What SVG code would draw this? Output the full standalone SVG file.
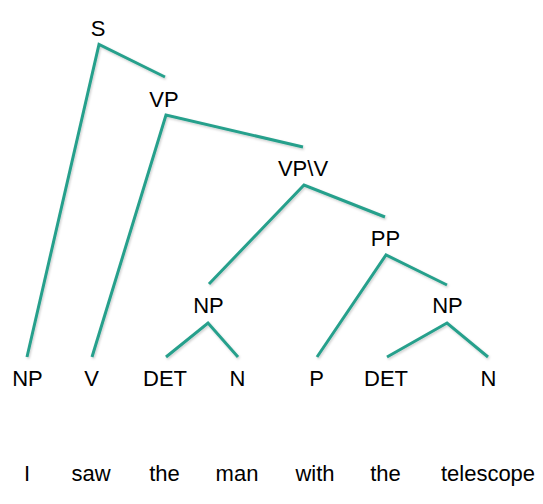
<svg xmlns="http://www.w3.org/2000/svg" width="543" height="504" viewBox="0 0 543 504">
<style>
.lbl{font-family:"Liberation Sans",Arial,sans-serif;font-size:22px;fill:#000;text-anchor:middle}
.br{fill:none;stroke:#27a08c;stroke-width:3;stroke-linejoin:miter;stroke-linecap:butt}
</style>
<defs>
<filter id="sh" x="-10%" y="-10%" width="120%" height="120%">
<feDropShadow dx="1" dy="1.5" stdDeviation="0.8" flood-color="#000" flood-opacity="0.2"/>
</filter>
</defs>
<rect width="543" height="504" fill="#fff"/>
<g id="connectors" filter="url(#sh)">
<polyline class="br" points="27,357 99,44.5 165,77"/>
<polyline class="br" points="92,357 166,115 303,147"/>
<polyline class="br" points="209,284 304,185 385,217"/>
<polyline class="br" points="317,357 386,255 447,285"/>
<polyline class="br" points="166,357 208,323 238,357"/>
<polyline class="br" points="387,357 447,323 488,357"/>
</g>
<g id="node-S"><text class="lbl" x="98" y="36">S</text></g>
<g id="node-VP"><text class="lbl" x="164" y="107">VP</text></g>
<g id="node-VPV"><text class="lbl" x="303" y="176">VP\V</text></g>
<g id="node-PP"><text class="lbl" x="385.5" y="246">PP</text></g>
<g id="node-NP1"><text class="lbl" x="208.5" y="313">NP</text></g>
<g id="node-NP2"><text class="lbl" x="447.5" y="313">NP</text></g>
<g id="node-NP0"><text class="lbl" x="27.5" y="386">NP</text></g>
<g id="node-V"><text class="lbl" x="91.5" y="386">V</text></g>
<g id="node-DET1"><text class="lbl" x="165" y="386">DET</text></g>
<g id="node-N1"><text class="lbl" x="237.5" y="386">N</text></g>
<g id="node-P"><text class="lbl" x="316.5" y="386">P</text></g>
<g id="node-DET2"><text class="lbl" x="386" y="386">DET</text></g>
<g id="node-N2"><text class="lbl" x="488.5" y="386">N</text></g>
<g id="words">
<text class="lbl" x="27" y="481">I</text>
<text class="lbl" x="91" y="481">saw</text>
<text class="lbl" x="164.5" y="481">the</text>
<text class="lbl" x="237" y="481">man</text>
<text class="lbl" x="315" y="481">with</text>
<text class="lbl" x="385.5" y="481">the</text>
<text class="lbl" x="488" y="481">telescope</text>
</g>
</svg>
